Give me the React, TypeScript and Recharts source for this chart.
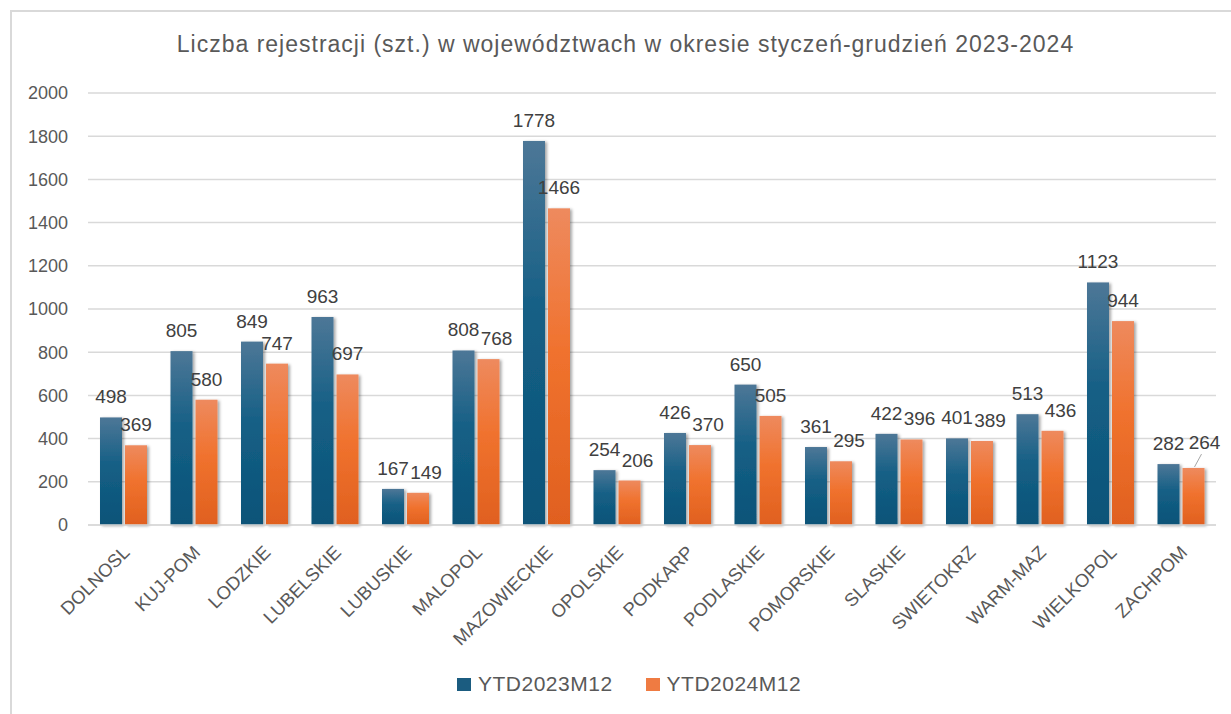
import React from 'react';
import { BarChart, Bar, XAxis, YAxis, CartesianGrid, Legend, LabelList } from 'recharts';

const REGIONS = [
  'DOLNOSL', 'KUJ-POM', 'LODZKIE', 'LUBELSKIE', 'LUBUSKIE', 'MALOPOL', 'MAZOWIECKIE', 'OPOLSKIE',
  'PODKARP', 'PODLASKIE', 'POMORSKIE', 'SLASKIE', 'SWIETOKRZ', 'WARM-MAZ', 'WIELKOPOL', 'ZACHPOM',
];
const YTD2023 = [498, 805, 849, 963, 167, 808, 1778, 254, 426, 650, 361, 422, 401, 513, 1123, 282];
const YTD2024 = [369, 580, 747, 697, 149, 768, 1466, 206, 370, 505, 295, 396, 389, 436, 944, 264];
const Y_TICKS = [0, 200, 400, 600, 800, 1000, 1200, 1400, 1600, 1800, 2000];

const data = REGIONS.map((name, i) => ({ name, a: YTD2023[i], b: YTD2024[i] }));

const FONT = '"Liberation Sans", Arial, sans-serif';
const PX_PER_UNIT = 432 / 2000;
const LABEL_OFFSET = 14;

const ShadowBar = (fill: string) => (props: any) => {
  const { x, y, width, height } = props;
  if (!height || height <= 0) return null;
  return <rect x={x} y={y} width={width} height={height} fill={fill} filter="url(#barShadow)" />;
};

const XTick = (props: any) => {
  const { x, y, payload } = props;
  return (
    <g transform={`translate(${x + 3},${y + 16}) rotate(-45)`}>
      <text x={0} y={0} dy="0.35em" textAnchor="end" fill="#595959" fontSize={18.5} fontFamily={FONT}>
        {payload.value}
      </text>
    </g>
  );
};

// orange labels: nudge right when they would collide with the blue label next to them
const OrangeLabel = (props: any) => {
  const { x, y, width, value, index } = props;
  const gap = (YTD2023[index] - YTD2024[index]) * PX_PER_UNIT;
  const near = gap < 20;
  const last = index === YTD2024.length - 1;
  const dx = near ? (last ? 11 : 8) : 0;
  const dy = last ? -gap - 1 : 0;
  const cx = x + width / 2;
  const ty = y - LABEL_OFFSET + dy;
  return (
    <g>
      {last && <line x1={cx + 8} y1={ty + 5} x2={cx + 1} y2={y - 1} stroke="#a6a6a6" strokeWidth={1} />}
      <text x={cx + dx} y={ty} textAnchor="middle" fill="#404040" fontSize={19} fontFamily={FONT}>
        {value}
      </text>
    </g>
  );
};

const LegendContent = () => (
  <div style={{ display: 'flex', alignItems: 'center', paddingLeft: 457, paddingTop: 8, fontFamily: FONT, fontSize: 21, color: '#595959', letterSpacing: 0.5 }}>
    <span style={{ width: 14, height: 13, background: '#1b5c80', display: 'inline-block', marginRight: 7 }} />
    <span>YTD2023M12</span>
    <span style={{ width: 14, height: 13, background: '#ef7b42', display: 'inline-block', marginLeft: 33, marginRight: 7 }} />
    <span>YTD2024M12</span>
  </div>
);

export default function App() {
  return (
    <div style={{ position: 'absolute', left: 0, top: 0, width: 1231, height: 714, background: '#fff' }}>
      <div style={{ position: 'absolute', left: 10, top: 10, width: 1221, height: 704, borderTop: '2px solid #d9d9d9', borderLeft: '2px solid #d9d9d9', boxSizing: 'border-box' }} />
      <div style={{ position: 'absolute', left: 0, top: 31, width: 1251, textAlign: 'center', fontFamily: FONT, fontSize: 23, letterSpacing: 1, color: '#595959' }}>
        Liczba rejestracji (szt.) w województwach w okresie styczeń-grudzień 2023-2024
      </div>
      <div style={{ position: 'absolute', left: 0, top: 0 }}>
        <BarChart width={1231} height={714} data={data} margin={{ top: 93, right: 15, bottom: 10, left: 0 }} barGap={3} barSize={22}>
          <defs>
            <linearGradient id="gradBlue" x1="0" y1="0" x2="0" y2="1">
              <stop offset="0%" stopColor="#4d7797" />
              <stop offset="45%" stopColor="#145f85" />
              <stop offset="100%" stopColor="#0c5378" />
            </linearGradient>
            <linearGradient id="gradOrange" x1="0" y1="0" x2="0" y2="1">
              <stop offset="0%" stopColor="#ee8a5e" />
              <stop offset="45%" stopColor="#f0722e" />
              <stop offset="100%" stopColor="#e0601f" />
            </linearGradient>
            <filter id="barShadow" x="-30%" y="-10%" width="160%" height="120%">
              <feDropShadow dx="2" dy="1" stdDeviation="1.5" floodColor="#000" floodOpacity="0.35" />
            </filter>
          </defs>
          <CartesianGrid vertical={false} stroke="#d9d9d9" strokeWidth={1.5} />
          <XAxis
            dataKey="name"
            interval={0}
            height={139}
            axisLine={{ stroke: '#d9d9d9', strokeWidth: 1.5 }}
            tickLine={false}
            tick={<XTick />}
          />
          <YAxis
            width={88}
            domain={[0, 2000]}
            ticks={Y_TICKS}
            axisLine={false}
            tickLine={false}
            tickMargin={14}
            tick={{ fill: '#595959', fontSize: 18, fontFamily: FONT }}
          />
          <Legend verticalAlign="bottom" height={40} content={<LegendContent />} />
          <Bar dataKey="a" name="YTD2023M12" fill="url(#gradBlue)" shape={ShadowBar('url(#gradBlue)')} isAnimationActive={false}>
            <LabelList dataKey="a" position="top" offset={LABEL_OFFSET} fill="#404040" fontSize={19} fontFamily={FONT} />
          </Bar>
          <Bar dataKey="b" name="YTD2024M12" fill="url(#gradOrange)" shape={ShadowBar('url(#gradOrange)')} isAnimationActive={false}>
            <LabelList dataKey="b" content={<OrangeLabel />} />
          </Bar>
        </BarChart>
      </div>
    </div>
  );
}
